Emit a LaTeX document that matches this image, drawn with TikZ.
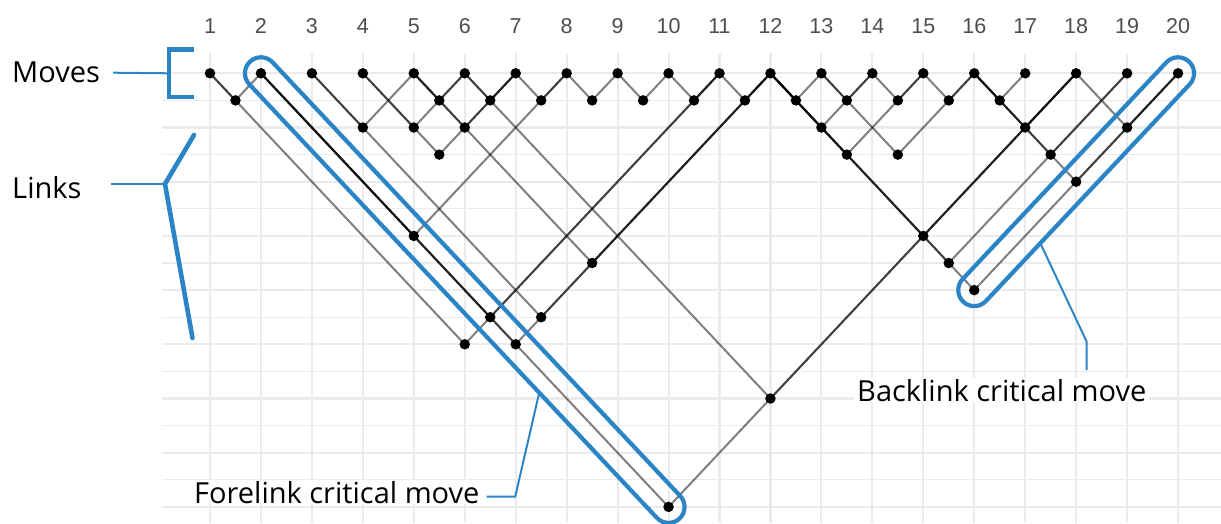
\documentclass[tikz,border=0pt]{standalone}
\usepackage{fontspec}
\newfontfamily\lblfont{Open Sans}
\newfontfamily\numfont{Liberation Sans}
\usetikzlibrary{calc,shapes.misc}
\definecolor{gridgrey}{HTML}{EBEBEB}
\definecolor{hlblue}{HTML}{2A84C6}
\definecolor{axisgrey}{HTML}{4D4D4D}
\pgfdeclarelayer{gridlayer}
\pgfdeclarelayer{linklayer}
\pgfsetlayers{gridlayer,linklayer,main}

% pairs of linked moves (i/j with i<j)
\def\linklist{1/2,1/11,2/8,2/11,2/12,2/18,3/5,3/12,4/6,4/7,5/6,5/7,5/12,
  6/7,6/18,7/8,8/9,9/10,10/11,11/12,12/13,12/14,12/15,12/18,12/19,12/20,
  13/14,13/16,14/15,15/16,16/17,16/18,16/19,16/20,18/20}

\begin{document}
\begin{tikzpicture}[x=1pt,y=-1pt,
  move/.style={circle,fill=black,inner sep=0pt,minimum size=10.5pt},
  linkdot/.style={circle,fill=black,inner sep=0pt,minimum size=10.5pt},
  linkline/.style={draw=black,opacity=0.5,line width=2pt},
  gridmajor/.style={draw=gridgrey,line width=2.1pt},
  gridminor/.style={draw=gridgrey,line width=1.05pt},
  colnum/.style={font=\numfont\fontsize{21.5}{26}\selectfont,text=axisgrey,anchor=base,inner sep=0pt},
  sidelabel/.style={font=\lblfont\fontsize{29}{34}\selectfont,anchor=base west,inner sep=0pt},
  notelabel/.style={font=\lblfont\fontsize{29}{34}\selectfont,anchor=base west,fill=white,inner xsep=3pt,inner ysep=1pt},
  capsule/.style={draw=hlblue,line width=4.2pt,rounded rectangle,minimum height=32pt,inner sep=0pt},
  hlthick/.style={draw=hlblue,line width=4.6pt,line cap=round},
  hlthin/.style={draw=hlblue,line width=2pt},
]
\useasboundingbox (0,0) rectangle (1221,523);
\clip (0,0) rectangle (1221,523);

% background grid
\begin{pgfonlayer}{gridlayer}
  \foreach \k in {0,2,...,16}
    \draw[gridmajor] (162,{73.3+27.1*\k}) -- (1221,{73.3+27.1*\k});
  \foreach \k in {1,3,...,15}
    \draw[gridminor] (162,{73.3+27.1*\k}) -- (1221,{73.3+27.1*\k});
  \foreach \i in {1,...,20}
    \draw[gridmajor] ({210+50.95*(\i-1)},53) -- ({210+50.95*(\i-1)},523);
\end{pgfonlayer}

% moves and their numbers
\foreach \i in {1,...,20} {
  \node[move] (m\i) at ({210+50.95*(\i-1)},73.3) {};
  \node[colnum] (n\i) at ({210+50.95*(\i-1)},33) {\i};
}

% link nodes
\foreach \i/\j in \linklist
  \node[linkdot] (l\i-\j) at ({210+50.95*((\i+\j)/2-1)},{73.3+27.1*(\j-\i)}) {};

% link lines, one translucent segment per side of each link
\begin{pgfonlayer}{linklayer}
  \foreach \i/\j in \linklist {
    \draw[linkline] (m\i.center) -- (l\i-\j.center);
    \draw[linkline] (m\j.center) -- (l\i-\j.center);
  }
\end{pgfonlayer}

% side labels and brackets
\node[sidelabel] (moveslbl) at (12,82) {Moves};
\node[sidelabel] (linkslbl) at (12,198) {Links};
\coordinate (mbr) at (169,73.3);
\coordinate (lbr) at (165,184);
\draw[hlthin] ($(moveslbl.base east)+(13,-9.3)$) -- (mbr);
\draw[hlthick,line cap=butt] (194,49.5) -| (mbr) |- (194,97.1);
\draw[hlthin] ($(linkslbl.base east)+(29,-14)$) -- (lbr);
\draw[hlthick] (194,135) -- (lbr) -- (192.5,338);

% critical move highlights
\path let \p1=($(l2-18.center)-(m2.center)$), \n1={veclen(\x1,\y1)}, \n2={atan2(\y1,\x1)} in
  node[capsule,minimum width=\n1+32pt,rotate=\n2] (fcap) at ($(m2.center)!0.5!(l2-18.center)$) {};
\path let \p1=($(m20.center)-(l12-20.center)$), \n1={veclen(\x1,\y1)}, \n2={atan2(\y1,\x1)} in
  node[capsule,minimum width=\n1+32pt,rotate=\n2] (bcap) at ($(l12-20.center)!0.5!(m20.center)$) {};

\node[notelabel] (flabel) at (191,503) {Forelink critical move};
\node[notelabel] (blabel) at (854,401) {Backlink critical move};

\coordinate (fcontact) at ($ ($(m2.center)!0.713!(l2-18.center)$)!17.5pt!-90:(l2-18.center) $);
\coordinate (bcontact) at ($ ($(l12-20.center)!0.265!(m20.center)$)!17.5pt!-90:(m20.center) $);
\coordinate (bfoot) at (1086.7,370);
\draw[hlthin] ($(flabel.base east)+(4,-6.3)$) -- ++(28.5,0) -- (fcontact);
\draw[hlthin] (bfoot) -- ++(0,-28.3) -- (bcontact);
\end{tikzpicture}
\end{document}
